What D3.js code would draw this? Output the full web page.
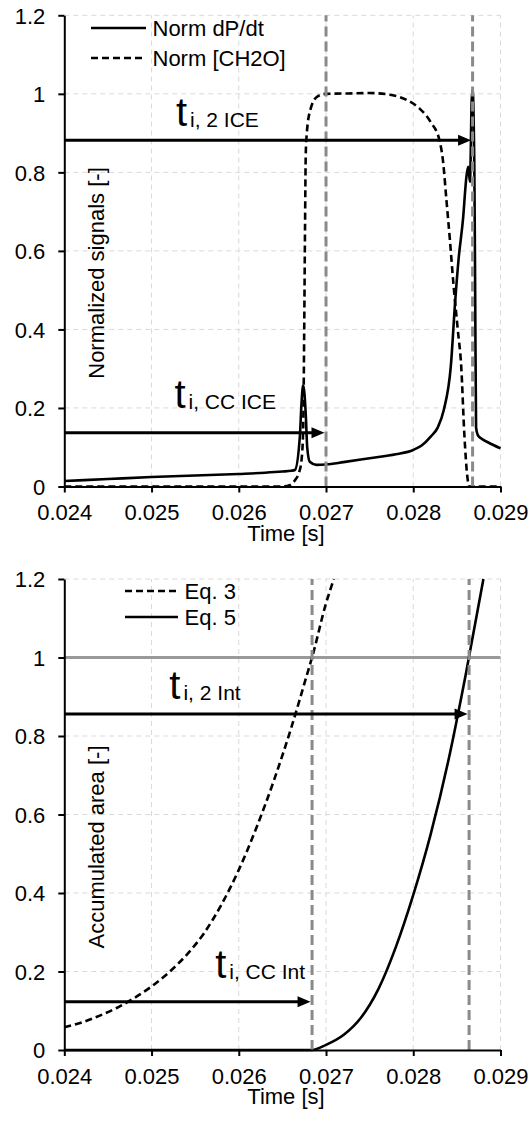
<!DOCTYPE html>
<html><head><meta charset="utf-8">
<script src="https://cdn.jsdelivr.net/npm/d3@7"></script>
<style>
body{margin:0;background:#fff}
svg{display:block}
text{font-family:"Liberation Sans",Arial,Helvetica,sans-serif;fill:#000}
</style>
</head><body>
<svg id="c" width="531" height="1122"></svg>
<script>
// ---------- data ----------
const xTickValues = [0.024, 0.025, 0.026, 0.027, 0.028, 0.029];
const xTickLabels = ["0.024", "0.025", "0.026", "0.027", "0.028", "0.029"];
const yTickValues = [0, 0.2, 0.4, 0.6, 0.8, 1, 1.2];
const yTickLabels = ["0", "0.2", "0.4", "0.6", "0.8", "1", "1.2"];

// top panel: Norm dP/dt (solid)
const dpdtT = [0.0240,0.0245,0.0250,0.0255,0.0260,0.0263,0.0265,0.02660,0.026643,0.02670,0.026719,0.026738,0.026769,0.026784,0.026814,0.02689,0.0270,0.0272,0.0275,0.0278,0.0280,0.0281,0.0282,0.02828,0.02835,0.02843,0.02848,0.02852,0.02857,0.02861,0.02863,0.02865,0.02867,0.02868,0.02870,0.02871,0.02872,0.02874,0.02878,0.02886,0.0290];
const dpdtV = [0.014,0.019,0.024,0.028,0.032,0.035,0.038,0.040,0.042,0.127,0.212,0.258,0.178,0.101,0.063,0.055,0.056,0.062,0.072,0.082,0.093,0.105,0.127,0.150,0.195,0.305,0.470,0.580,0.680,0.790,0.814,0.776,0.984,1.010,0.814,0.480,0.150,0.131,0.122,0.112,0.097];
// top panel: Norm [CH2O] (dashed)
const ch2oT = [0.0240,0.0265,0.02659,0.02665,0.02669,0.026719,0.026738,0.026750,0.026759,0.026768,0.02678,0.02682,0.02690,0.0270,0.02725,0.0275,0.02775,0.02793,0.02807,0.02820,0.02830,0.02834,0.02838,0.02842,0.02846,0.02851,0.02855,0.028585,0.02862,0.02864,0.0290];
const ch2oV = [0.0,0.0,0.004,0.018,0.035,0.067,0.144,0.40,0.65,0.85,0.90,0.959,0.993,1.0,1.001,1.002,0.997,0.984,0.963,0.928,0.882,0.831,0.73,0.628,0.517,0.40,0.305,0.135,0.025,0.0,0.0];
const topMarkers = [0.0270, 0.02868];
const topArrows = [{v: 0.882, t1: 0.024, t2: 0.02868}, {v: 0.137, t1: 0.024, t2: 0.0270}];
const topNotes = [{t: 0.025279, v: 0.918, sub: "i, 2 ICE"}, {t: 0.025262, v: 0.200, sub: "i, CC ICE"}];

// bottom panel: Eq. 3 (dashed)
const eq3T = [0.0240,0.0242,0.0244,0.0246,0.0248,0.0250,0.0252,0.0254,0.0256,0.0258,0.0260,0.0262,0.0264,0.0266,0.0268,0.02684,0.0270,0.02709];
const eq3V = [0.058,0.070,0.087,0.107,0.132,0.162,0.198,0.242,0.297,0.370,0.459,0.565,0.685,0.820,0.970,1.0,1.138,1.2];
// bottom panel: Eq. 5 (solid)
const eq5T = [0.0240,0.02684,0.0270,0.0272,0.0274,0.0276,0.0278,0.0280,0.0282,0.0284,0.0286,0.0288,0.028804];
const eq5V = [0.0,0.0,0.013,0.038,0.082,0.155,0.262,0.395,0.550,0.735,0.955,1.195,1.2];
const botMarkers = [0.02684, 0.02864];
const botRefLine = 1;
const botArrows = [{v: 0.856, t1: 0.024, t2: 0.02864}, {v: 0.123, t1: 0.024, t2: 0.02684}];
const botNotes = [{t: 0.025204, v: 0.894, sub: "i, 2 Int"}, {t: 0.025729, v: 0.183, sub: "i, CC Int"}];

// ---------- drawing ----------
const svg = d3.select("#c");
const xRange = [64.3, 500.5];

function zip(ts, vs){ return ts.map((t,i)=>({t, v: vs[i]})); }

function panel(cfg){
  const x = d3.scaleLinear().domain([0.024, 0.029]).range(xRange);
  const y = d3.scaleLinear().domain([0, 1.2]).range([cfg.yBottom, cfg.yTop]);
  const g = svg.append("g");

  // grid
  g.selectAll(".gx").data(xTickValues.slice(1)).join("line")
    .attr("x1", d=>x(d)).attr("x2", d=>x(d)).attr("y1", y(0)).attr("y2", y(1.2))
    .attr("stroke", "#d9d9d9").attr("stroke-width", 1).attr("stroke-dasharray", "5,4");
  g.selectAll(".gy").data(yTickValues.slice(1)).join("line")
    .attr("x1", x(0.024)).attr("x2", x(0.029)).attr("y1", d=>y(d)).attr("y2", d=>y(d))
    .attr("stroke", "#d9d9d9").attr("stroke-width", 1).attr("stroke-dasharray", "5,4");

  if (cfg.ref !== undefined){
    g.append("line").attr("x1", x(0.024)).attr("x2", x(0.029))
      .attr("y1", y(cfg.ref)).attr("y2", y(cfg.ref))
      .attr("stroke", "#999").attr("stroke-width", 3);
  }

  const line = d3.line().x(d=>x(d.t)).y(d=>y(d.v)).curve(d3.curveMonotoneX);
  cfg.series.forEach(s=>{
    g.append("path").datum(zip(s.t, s.v)).attr("d", line)
      .attr("fill", "none").attr("stroke", "#000").attr("stroke-width", 2.6)
      .attr("stroke-dasharray", s.dash ? "7,4" : null).attr("stroke-linejoin", "round");
  });

  // marker lines
  g.selectAll(".mk").data(cfg.markers).join("line")
    .attr("x1", d=>x(d)).attr("x2", d=>x(d)).attr("y1", y(0)).attr("y2", y(1.2))
    .attr("stroke", "#8a8a8a").attr("stroke-width", 3).attr("stroke-dasharray", "10,5");

  // arrows
  cfg.arrows.forEach(a=>{
    const x1 = x(a.t1), x2 = x(a.t2) - 1.5, yy = y(a.v);
    g.append("line").attr("x1", x1).attr("x2", x2 - 10).attr("y1", yy).attr("y2", yy)
      .attr("stroke", "#000").attr("stroke-width", 3);
    g.append("path").attr("d", `M${x2},${yy}L${x2-13},${yy-5.5}L${x2-13},${yy+5.5}Z`).attr("fill", "#000");
  });

  // annotations
  cfg.notes.forEach(n=>{
    const tx = g.append("text").attr("x", x(n.t)).attr("y", y(n.v)).style("font-size", "40px");
    tx.append("tspan").text("t");
    tx.append("tspan").attr("dx", 3).attr("dy", 1).style("font-size", "21px").text(n.sub);
  });

  // axes
  const ax = g.append("g").attr("transform", `translate(0,${y(0)})`)
    .call(d3.axisBottom(x).tickValues(xTickValues).tickFormat((d,i)=>xTickLabels[i]).tickSize(6).tickSizeOuter(0).tickPadding(12));
  const ay = g.append("g").attr("transform", `translate(${x(0.024)},0)`)
    .call(d3.axisLeft(y).tickValues(yTickValues).tickFormat((d,i)=>yTickLabels[i]).tickSize(6).tickSizeOuter(0).tickPadding(13));
  [ax, ay].forEach(a=>{
    a.selectAll("path, line").attr("stroke", "#000").attr("stroke-width", 2);
    a.selectAll("text").style("font-size", "22px").style("font-family", "'Liberation Sans',Arial,sans-serif");
  });
  ay.selectAll("text").attr("dy", "0.36em");

  // titles
  g.append("text").attr("x", 286).attr("y", y(0) + 54).attr("text-anchor", "middle")
    .style("font-size", "22px").text("Time [s]");
  g.append("text").attr("transform", `translate(104,${cfg.yLabelY}) rotate(-90)`)
    .attr("text-anchor", "middle").style("font-size", "22px").text(cfg.yLabel);

  // legend
  cfg.legend.forEach((l,i)=>{
    const ly = cfg.legendY[i];
    g.append("line").attr("x1", cfg.legendX[0]).attr("x2", cfg.legendX[1]).attr("y1", ly).attr("y2", ly)
      .attr("stroke", "#000").attr("stroke-width", 2.6).attr("stroke-dasharray", l.dash ? "7,4" : null);
    g.append("text").attr("x", cfg.legendX[1] + 6.5).attr("y", ly).attr("dy", "0.35em")
      .style("font-size", "22px").text(l.name);
  });
}

panel({
  yTop: 15.3, yBottom: 486.5,
  series: [{t: ch2oT, v: ch2oV, dash: true}, {t: dpdtT, v: dpdtV, dash: false}],
  markers: topMarkers, arrows: topArrows, notes: topNotes,
  yLabel: "Normalized signals [-]", yLabelY: 273,
  legend: [{name: "Norm dP/dt", dash: false}, {name: "Norm [CH2O]", dash: true}],
  legendX: [91, 146], legendY: [28, 58]
});
panel({
  yTop: 579, yBottom: 1050, ref: botRefLine,
  series: [{t: eq3T, v: eq3V, dash: true}, {t: eq5T, v: eq5V, dash: false}],
  markers: botMarkers, arrows: botArrows, notes: botNotes,
  yLabel: "Accumulated area [-]", yLabelY: 847,
  legend: [{name: "Eq. 3", dash: true}, {name: "Eq. 5", dash: false}],
  legendX: [125, 178], legendY: [591, 617]
});
</script>
</body></html>
